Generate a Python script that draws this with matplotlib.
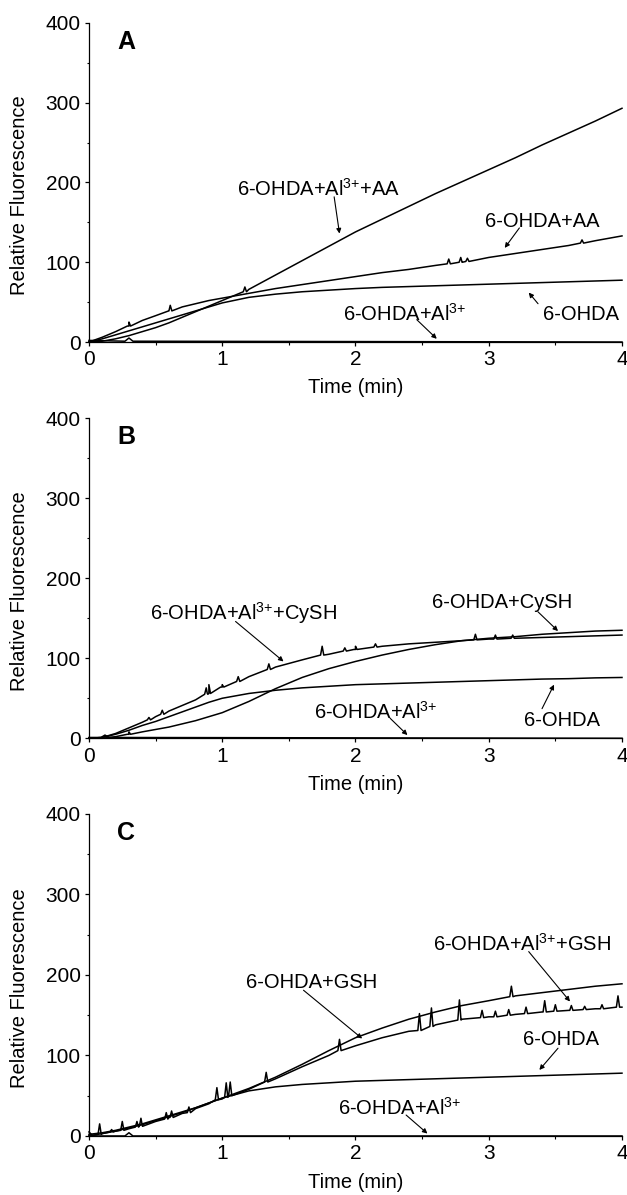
import numpy as np
import matplotlib
matplotlib.use('Agg')
import matplotlib.pyplot as plt
from matplotlib.ticker import MultipleLocator

plt.rcParams['font.family'] = ['Liberation Sans', 'DejaVu Sans']
plt.rcParams['mathtext.default'] = 'regular'

# ---------------- data ----------------
T = [0, 0.1, 0.2, 0.3, 0.4, 0.5, 0.6, 0.7, 0.8, 0.9, 1.0, 1.2, 1.4, 1.6, 1.8,
     2.0, 2.2, 2.4, 2.6, 2.8, 3.0, 3.2, 3.4, 3.6, 3.8, 4.0]

# Panel A
A_ohda = [0, 4, 9, 14, 19, 24, 29, 34, 39, 44, 49, 56, 60, 63, 65, 67, 68.5, 69.5,
          70.5, 71.5, 72.5, 73.5, 74.5, 75.5, 76.5, 77.5]
A_ohda_aa = [0, 6, 13, 20, 27, 33, 39, 44, 48, 52, 55, 61, 67, 72, 77, 82, 87, 91,
             96, 100, 106, 111, 116, 121, 127, 133]
A_ohda_al_aa = [0, 1, 4, 8, 13, 18, 24, 31, 38, 45, 52, 66, 84, 102, 120, 138, 154,
                170, 186, 201, 216, 231, 247, 262, 277, 293]
A_ohda_al_t = [0, 0.27, 0.3, 0.33, 4.0]
A_ohda_al = [2, 1, 5, 1, 0]
A_aa_spk_t = [0.3, 0.61, 2.7, 2.79, 2.84, 3.7]
A_aa_spk_base = [20, 39, 98, 100, 101, 124]
A_aa_spk_peak = [25, 46, 104, 106, 105, 128]
A_alaa_spk_t = [1.17]
A_alaa_spk_base = [63]
A_alaa_spk_peak = [69]

# Panel B
B_ohda = [0, 1, 5, 10, 16, 21, 27, 33, 39, 45, 50, 56, 60, 63, 65, 67, 68, 69, 70,
          71, 72, 73, 74, 74.5, 75.5, 76]
B_ohda_cysh = [0, 0, 2, 5, 8, 11, 14, 18, 22, 27, 32, 46, 62, 76, 87, 96, 104, 111,
               117, 122, 125, 127, 130, 132, 134, 135]
B_ohda_al_cysh = [0, 1, 6, 13, 20, 27, 34, 41, 48, 56, 64, 77, 89, 98, 105, 111, 115,
                  118, 120, 122, 124, 125, 126, 127, 128, 129]
B_ohda_al_t = [0, 0.09, 0.12, 0.15, 4.0]
B_ohda_al = [1, 1, 4, 1, 0]
B_alcy_spk_t = [0.45, 0.55, 0.88, 0.9, 1.0, 1.12, 1.35, 1.75, 1.92, 2.0, 2.15, 2.9, 3.05, 3.18]
B_alcy_spk_base = [23, 30, 55, 56, 64, 71, 86, 104, 109, 111, 114, 123, 124, 125]
B_alcy_spk_peak = [26, 35, 63, 67, 67, 77, 93, 115, 113, 115, 118, 130, 129, 129]
B_cy_spk_t = [0.3]
B_cy_spk_base = [5]
B_cy_spk_peak = [8]

# Panel C
C_ohda = [0, 3, 6, 10, 14, 19, 24, 29, 35, 41, 47, 56, 61, 64, 66, 68, 69, 70, 71,
          72, 73, 74, 75, 76, 77, 78]
C_ohda_gsh = [2, 4, 7, 11, 15, 20, 25, 30, 35, 41, 47, 59, 73, 89, 106, 122, 134, 145,
              154, 162, 168, 174, 178, 182, 186, 189]
C_ohda_al_gsh = [0, 3, 6, 9, 13, 18, 23, 28, 34, 40, 46, 58, 71, 86, 100, 112, 122, 130,
                 138, 145, 148, 151, 154, 156, 158, 160]
C_ohda_al_t = [0, 0.03, 0.27, 0.3, 0.33, 4.0]
C_ohda_al = [5, 0, 0, 4, 0, 0]
C_gsh_spk_t = [3.17]
C_gsh_spk_base = [173]
C_gsh_spk_peak = [186]
C_algsh_spk_t = [0.08, 0.17, 0.25, 0.36, 0.39, 0.58, 0.62, 0.75, 0.96, 1.03, 1.06, 1.33,
                 1.88, 2.48, 2.57, 2.78, 2.95, 3.05, 3.15, 3.28, 3.42, 3.5, 3.62, 3.72,
                 3.85, 3.97]
C_algsh_spk_base = [2, 5, 7, 11, 12, 21, 23, 29, 45, 48, 50, 67, 106, 131, 136, 144, 147,
                    148, 150, 152, 154, 155, 156, 157, 158, 160]
C_algsh_spk_peak = [15, 8, 18, 18, 22, 29, 31, 36, 60, 66, 67, 79, 120, 152, 159, 169, 156,
                    155, 157, 160, 168, 163, 162, 161, 163, 174]

# ---------------- helpers ----------------
SPIKE_HALF_WIDTH = 0.012
AL = 'Al$^{3{+}}$'


def with_spikes(t, y, st=(), sb=(), sp=()):
    tt = list(t)
    yy = list(y)
    for a, b, c in zip(st, sb, sp):
        tt += [a - SPIKE_HALF_WIDTH, a, a + SPIKE_HALF_WIDTH]
        yy += [b, c, b]
    order = np.argsort(np.array(tt), kind='stable')
    return np.array(tt)[order], np.array(yy)[order]


panels = [
    dict(letter='A', rect=[0.1419, 0.7138, 0.8501, 0.2670],
         series=[
             with_spikes(T, A_ohda),
             with_spikes(T, A_ohda_aa, A_aa_spk_t, A_aa_spk_base, A_aa_spk_peak),
             with_spikes(T, A_ohda_al_aa, A_alaa_spk_t, A_alaa_spk_base, A_alaa_spk_peak),
             (np.array(A_ohda_al_t), np.array(A_ohda_al)),
         ],
         notes=[
             ('6-OHDA+' + AL + '+AA', 1.72, 192, (1.84, 182), (1.88, 136)),
             ('6-OHDA+AA', 3.40, 151, (3.23, 143), (3.12, 118)),
             ('6-OHDA', 3.69, 35, (3.37, 48), (3.30, 62)),
             ('6-OHDA+' + AL, 2.37, 35, (2.46, 28), (2.61, 4)),
         ]),
    dict(letter='B', rect=[0.1419, 0.3822, 0.8501, 0.2678],
         series=[
             with_spikes(T, B_ohda),
             with_spikes(T, B_ohda_cysh, B_cy_spk_t, B_cy_spk_base, B_cy_spk_peak),
             with_spikes(T, B_ohda_al_cysh, B_alcy_spk_t, B_alcy_spk_base, B_alcy_spk_peak),
             (np.array(B_ohda_al_t), np.array(B_ohda_al)),
         ],
         notes=[
             ('6-OHDA+' + AL + '+CySH', 1.16, 157, (1.10, 146), (1.46, 96)),
             ('6-OHDA+CySH', 3.10, 170, (3.37, 158), (3.52, 134)),
             ('6-OHDA', 3.55, 22, (3.40, 37), (3.49, 67)),
             ('6-OHDA+' + AL, 2.15, 33, (2.26, 25), (2.39, 4)),
         ]),
    dict(letter='C', rect=[0.1419, 0.0494, 0.8501, 0.2695],
         series=[
             with_spikes(T, C_ohda),
             with_spikes(T, C_ohda_gsh, C_gsh_spk_t, C_gsh_spk_base, C_gsh_spk_peak),
             with_spikes(T, C_ohda_al_gsh, C_algsh_spk_t, C_algsh_spk_base, C_algsh_spk_peak),
             (np.array(C_ohda_al_t), np.array(C_ohda_al)),
         ],
         notes=[
             ('6-OHDA+GSH', 1.67, 191, (1.61, 181), (2.05, 121)),
             ('6-OHDA+' + AL + '+GSH', 3.25, 238, (3.30, 229), (3.61, 167)),
             ('6-OHDA', 3.54, 120, (3.52, 109), (3.38, 82)),
             ('6-OHDA+' + AL, 2.33, 35, (2.38, 26), (2.54, 3)),
         ]),
]

fig = plt.figure(figsize=(6.27, 11.95), dpi=100)

for p in panels:
    ax = fig.add_axes(p['rect'])
    for t, y in p['series']:
        ax.plot(t, y, color='black', lw=1.1, clip_on=False)
    ax.set_xlim(0, 4)
    ax.set_ylim(0, 400)
    ax.xaxis.set_major_locator(MultipleLocator(1))
    ax.xaxis.set_minor_locator(MultipleLocator(0.5))
    ax.yaxis.set_major_locator(MultipleLocator(100))
    ax.yaxis.set_minor_locator(MultipleLocator(50))
    ax.spines['top'].set_visible(False)
    ax.spines['right'].set_visible(False)
    for s in ('left', 'bottom'):
        ax.spines[s].set_linewidth(0.9)
    ax.tick_params(which='major', direction='out', length=3, width=0.9,
                   labelsize=15, pad=3)
    ax.tick_params(which='minor', direction='out', length=1.8, width=0.8)
    ax.set_xlabel('Time (min)', fontsize=14.5)
    ax.set_ylabel('Relative Fluorescence', fontsize=14.5)
    ax.xaxis.set_label_coords(0.5, -0.144)
    ax.xaxis.label.set_va('center')
    ax.yaxis.set_label_coords(-0.131, 0.46)
    ax.yaxis.label.set_va('center')
    ax.text(0.28, 376, p['letter'], fontsize=18, fontweight='bold',
            ha='center', va='center')
    for txt, tx, ty, tail, tip in p['notes']:
        ax.text(tx, ty, txt, fontsize=14.5, ha='center', va='center')
        ax.annotate('', xy=tip, xytext=tail,
                    arrowprops=dict(arrowstyle='-|>', lw=0.8, color='black',
                                    mutation_scale=7, shrinkA=0, shrinkB=0))

fig.savefig('out.png', dpi=100)
